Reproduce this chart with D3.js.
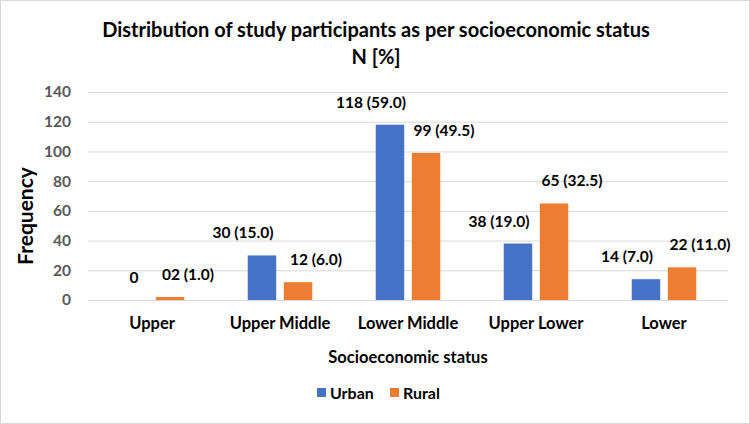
<!DOCTYPE html>
<html>
<head>
<meta charset="utf-8">
<script src="https://cdn.jsdelivr.net/npm/d3@7"></script>
<style>
	body { margin: 0; background: #fff; }
	svg text { font-family: Lato, "Open Sans", sans-serif; font-weight: 700; }
	.grid line { stroke: #d9d9d9; stroke-width: 1; }
	.grid path { display: none; }
	.yaxis text { fill: #595959; font-size: 15.5px; }
	.xaxis text { fill: #000; font-size: 16.5px; }
	.lbl { fill: #000; font-size: 15.5px; }
</style>
</head>
<body>
<div id="chart"></div>
<script>
var categories = ['Upper', 'Upper Middle', 'Lower Middle', 'Upper Lower', 'Lower'];
var seriesNames = ['Urban', 'Rural'];
var urbanValues = [0, 30, 118, 38, 14];
var ruralValues = [2, 12, 99, 65, 22];
var urbanLabels = ['0', '30 (15.0)', '118 (59.0)', '38 (19.0)', '14 (7.0)'];
var ruralLabels = ['02 (1.0)', '12 (6.0)', '99 (49.5)', '65 (32.5)', '22 (11.0)'];
var yTicks = [0, 20, 40, 60, 80, 100, 120, 140];
var colors = ['#4472c4', '#ed7d31'];

var width = 750, height = 424;
var margin = {top: 92, right: 22, bottom: 124, left: 88};
var viewWidth = width - margin.left - margin.right;
var viewHeight = height - margin.top - margin.bottom;

var svg = d3.select('#chart').append('svg')
	.attr('width', width)
	.attr('height', height);

// chart border
svg.append('rect')
	.attr('x', 0.5).attr('y', 0.5)
	.attr('width', width - 1).attr('height', height - 1)
	.attr('fill', '#fff')
	.attr('stroke', '#d9d9d9');

// title
svg.append('text')
	.attr('x', 376).attr('y', 37)
	.attr('text-anchor', 'middle')
	.style('font-size', '20px')
	.text('Distribution of study participants as per socioeconomic status');
svg.append('text')
	.attr('x', 376).attr('y', 64)
	.attr('text-anchor', 'middle')
	.style('font-size', '20px')
	.text('N [%]');

var vis = svg.append('g')
	.attr('transform', 'translate(' + margin.left + ',' + margin.top + ')');

var y = d3.scaleLinear().domain([0, 140]).range([viewHeight, 0]);
var x0 = d3.scaleBand().domain(categories).range([0, viewWidth]);
var x1 = d3.scaleBand().domain(seriesNames).range([0, x0.bandwidth()])
	.paddingInner(0.21).paddingOuter(0.88);

// gridlines
vis.append('g')
	.attr('class', 'grid')
	.call(d3.axisLeft(y).tickValues(yTicks).tickSize(-viewWidth).tickFormat(''));

// y tick labels
var yAxis = vis.append('g')
	.attr('class', 'yaxis')
	.call(d3.axisLeft(y).tickValues(yTicks).tickSize(0).tickPadding(17));
yAxis.select('.domain').remove();

// x category labels
var xAxis = vis.append('g')
	.attr('class', 'xaxis')
	.attr('transform', 'translate(0,' + viewHeight + ')')
	.call(d3.axisBottom(x0).tickSize(0).tickPadding(17));
xAxis.select('.domain').remove();

// bars
var rows = categories.map(function(c, i) {
	return [
		{cat: c, s: 'Urban', v: urbanValues[i], label: urbanLabels[i], dx: urbanValues[i] === 0 ? 0 : -19},
		{cat: c, s: 'Rural', v: ruralValues[i], label: ruralLabels[i], dx: 18}
	];
});

var group = vis.selectAll('g.cat')
	.data(rows)
	.enter().append('g')
	.attr('class', 'cat')
	.attr('transform', function(d, i) { return 'translate(' + x0(categories[i]) + ',0)'; });

group.selectAll('rect')
	.data(function(d) { return d; })
	.enter().append('rect')
	.attr('x', function(d) { return x1(d.s); })
	.attr('y', function(d) { return y(d.v); })
	.attr('width', x1.bandwidth())
	.attr('height', function(d) { return viewHeight - y(d.v); })
	.attr('fill', function(d, i) { return colors[i]; });

group.selectAll('text.lbl')
	.data(function(d) { return d; })
	.enter().append('text')
	.attr('class', 'lbl')
	.attr('text-anchor', 'middle')
	.attr('x', function(d) { return x1(d.s) + x1.bandwidth() / 2 + d.dx; })
	.attr('y', function(d) { return y(d.v) - 17; })
	.text(function(d) { return d.label; });

// axis titles
svg.append('text')
	.attr('transform', 'translate(33,216) rotate(-90)')
	.attr('text-anchor', 'middle')
	.style('font-size', '21px')
	.text('Frequency');
svg.append('text')
	.attr('x', 408).attr('y', 363)
	.attr('text-anchor', 'middle')
	.style('font-size', '16.5px')
	.text('Socioeconomic status');

// legend
var legend = svg.append('g').attr('transform', 'translate(317,393)');
var li = legend.selectAll('g')
	.data(seriesNames)
	.enter().append('g')
	.attr('transform', function(d, i) { return 'translate(' + (i * 73) + ',0)'; });
li.append('rect')
	.attr('x', 0).attr('y', -5)
	.attr('width', 9).attr('height', 9)
	.attr('fill', function(d, i) { return colors[i]; });
li.append('text')
	.attr('x', 13).attr('y', 6)
	.style('font-size', '16px')
	.text(function(d) { return d; });
</script>
</body>
</html>
